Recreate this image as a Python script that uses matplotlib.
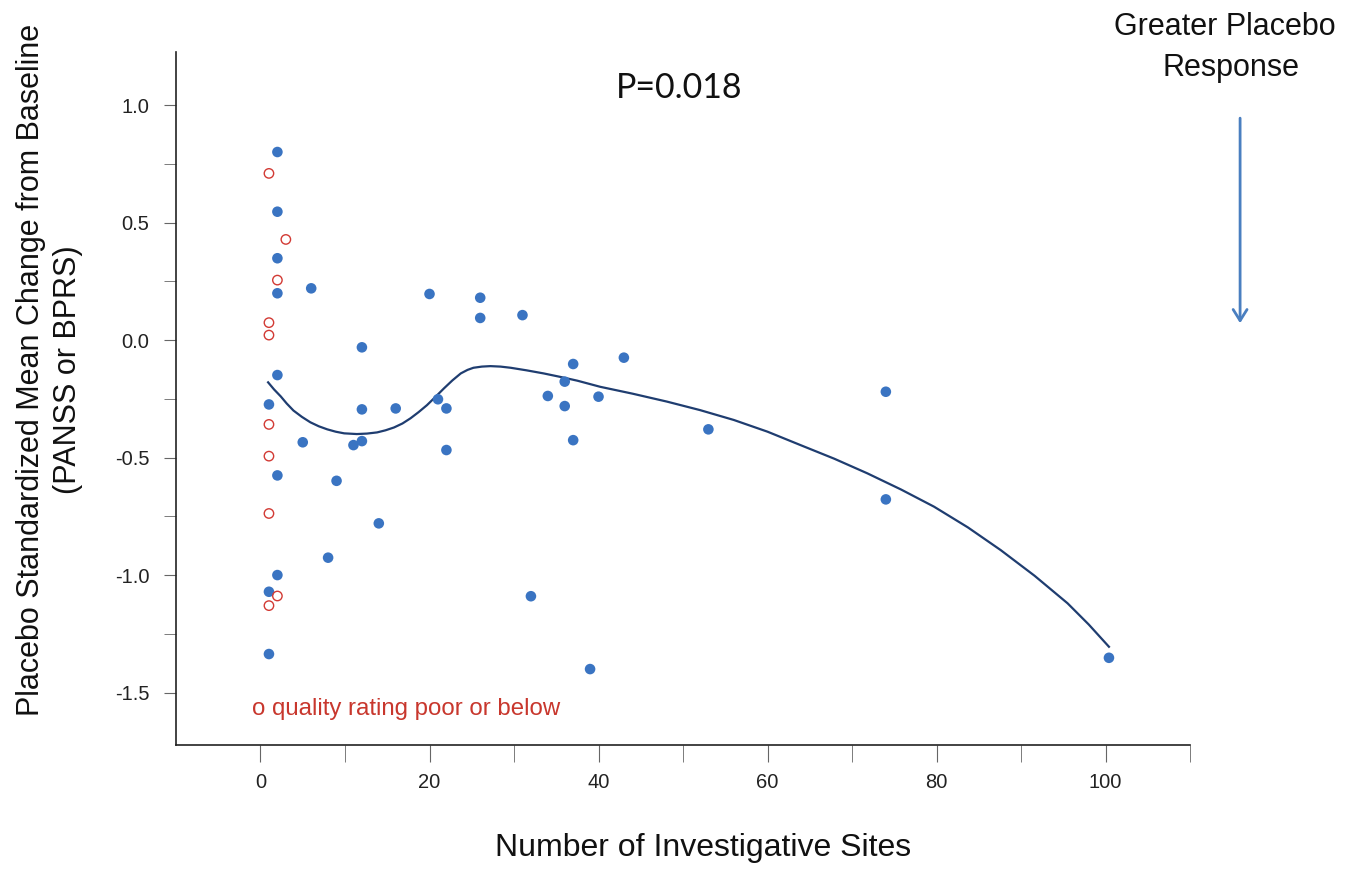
import matplotlib
matplotlib.use("Agg")
import matplotlib.pyplot as plt
from matplotlib.ticker import MultipleLocator

plt.rcParams["font.family"] = ["Liberation Sans", "DejaVu Sans"]

# trials rated adequate (filled blue)
blue_x = [2, 2, 2, 2, 6, 2, 1, 5, 2, 9, 12, 12, 11, 12, 16, 14, 8, 2, 1, 1,
          20, 26, 26, 31, 21, 22, 22, 34, 36, 36, 37, 37, 40, 43, 32, 39,
          53, 74, 74, 100.4]
blue_y = [0.80, 0.546, 0.348, 0.199, 0.22, -0.149, -0.274, -0.435, -0.576, -0.599,
          -0.031, -0.295, -0.447, -0.43, -0.291, -0.78, -0.926, -1.0, -1.071, -1.336,
          0.196, 0.18, 0.094, 0.106, -0.252, -0.291, -0.468, -0.238, -0.177, -0.281,
          -0.102, -0.426, -0.241, -0.075, -1.09, -1.40,
          -0.38, -0.22, -0.678, -1.352]

# quality rating poor or below (open red)
red_x = [1, 3, 2, 1, 1, 1, 1, 1, 2, 1]
red_y = [0.709, 0.428, 0.255, 0.074, 0.021, -0.359, -0.494, -0.738, -1.089, -1.13]

# fitted curve
curve_x = [0.9, 1.6, 2.4, 3.1, 3.9, 4.9, 5.9, 6.9, 7.9, 8.9, 9.9, 11.4, 12.6,
           13.8, 14.8, 15.8, 16.8, 17.75, 18.7, 19.7, 20.7, 21.7, 22.7, 23.7,
           24.5, 25.2, 26.2, 27.2, 28.4, 29.6, 31.5, 33.5, 35.5, 37.5, 40.2,
           44.0, 48.1, 52.0, 56.0, 60.0, 63.9, 67.9, 71.8, 75.8, 79.7, 83.7,
           87.6, 91.6, 95.5, 98.0, 100.4]
curve_y = [-0.18, -0.21, -0.24, -0.27, -0.30, -0.327, -0.35, -0.367, -0.38,
           -0.39, -0.397, -0.40, -0.398, -0.393, -0.384, -0.372, -0.355, -0.333,
           -0.307, -0.277, -0.242, -0.206, -0.172, -0.142, -0.127, -0.118, -0.113,
           -0.111, -0.113, -0.118, -0.129, -0.142, -0.157, -0.173, -0.199,
           -0.228, -0.262, -0.298, -0.34, -0.39, -0.447, -0.505, -0.567,
           -0.636, -0.709, -0.797, -0.894, -1.003, -1.12, -1.21, -1.305]

fig = plt.figure(figsize=(13.59, 8.74), dpi=100)
ax = fig.add_axes([0.1295, 0.1476, 0.7462, 0.7929])

ax.plot(curve_x, curve_y, color="#1f3d70", lw=1.6, zorder=2)
ax.scatter(blue_x, blue_y, s=58, color="#3a74c2", edgecolors="none", zorder=3)
ax.scatter(red_x, red_y, s=46, facecolors="none", edgecolors="#d23a34", lw=1.0, zorder=3)

ax.set_xlim(-10, 110)
ax.set_ylim(-1.723, 1.2255)
ax.set_yticks([-1.5, -1.0, -0.5, 0.0, 0.5, 1.0])
ax.set_yticklabels(["-1.5", "-1.0", "-0.5", "0.0", "0.5", "1.0"])
ax.yaxis.set_minor_locator(MultipleLocator(0.25))
ax.set_xticks([0, 20, 40, 60, 80, 100])
ax.set_xticks([10, 30, 50, 70, 90, 110], minor=True)

for s in ("top", "right"):
    ax.spines[s].set_visible(False)
for s in ("left", "bottom"):
    ax.spines[s].set_color("#222222")
    ax.spines[s].set_linewidth(1.2)

ax.tick_params(axis="both", which="both", direction="out", color="#666666",
               labelcolor="#222222", labelsize=14.5)
ax.tick_params(axis="y", which="major", length=9, pad=10)
ax.tick_params(axis="y", which="minor", length=9)
ax.tick_params(axis="x", which="major", length=12, pad=8)
ax.tick_params(axis="x", which="minor", length=12)

fig.text(0.0225, 0.577, "Placebo Standardized Mean Change from Baseline",
         rotation=90, ha="center", va="center", fontsize=22, color="#111111")
fig.text(0.05, 0.577, "(PANSS or BPRS)",
         rotation=90, ha="center", va="center", fontsize=22, color="#111111")
fig.text(0.517, 0.03, "Number of Investigative Sites",
         ha="center", va="center", fontsize=23, color="#111111")

fig.text(0.5, 0.899, "P=0.018", ha="center", va="center", fontsize=24.5,
         family=["Lato", "DejaVu Sans"], color="#111111")
ax.text(-1.0, -1.57, "o quality rating poor or below", ha="left", va="center",
        fontsize=17.3, color="#c8372d")

fig.text(0.9015, 0.969, "Greater Placebo", ha="center", va="center",
         fontsize=22, color="#111111")
fig.text(0.9055, 0.922, "Response", ha="center", va="center",
         fontsize=22, color="#111111")
fig.add_artist(matplotlib.patches.FancyArrowPatch(
    (0.9125, 0.868), (0.9125, 0.627), transform=fig.transFigure,
    arrowstyle="->,head_length=8,head_width=5", color="#4a7fc0", lw=2))

fig.savefig("out.png", dpi=100)
